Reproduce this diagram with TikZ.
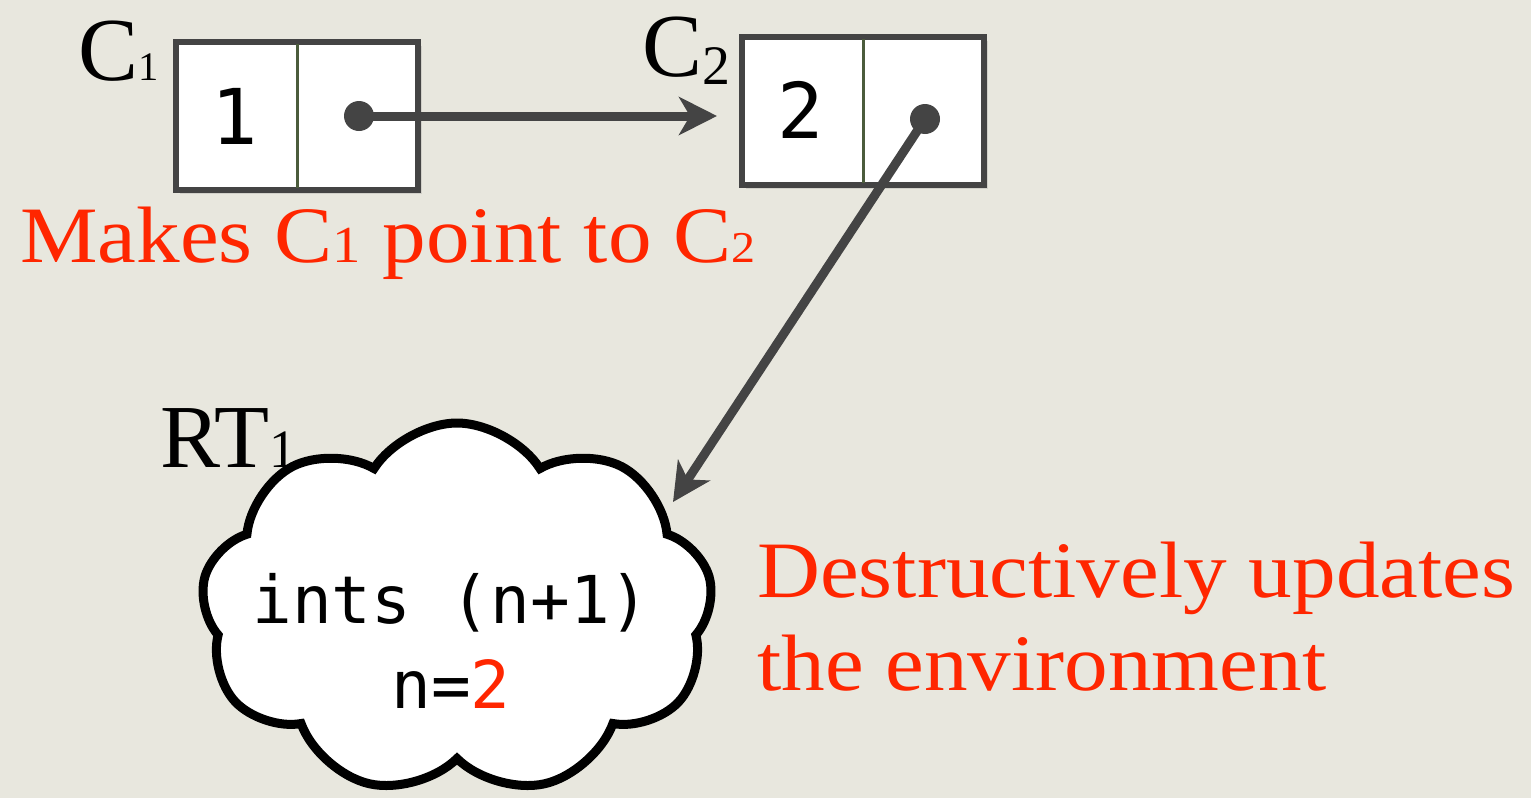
\documentclass[tikz,border=0pt]{standalone}
\usepackage{fontspec}
\setmainfont{Liberation Serif}
\setmonofont{DejaVu Sans Mono}
\newfontfamily\notefont{Liberation Serif}[FakeStretch=1.09]
\definecolor{slideBg}{RGB}{232,231,222}
\definecolor{slideRed}{RGB}{255,38,0}
\definecolor{ptrGray}{RGB}{68,68,68}
\definecolor{cellSep}{RGB}{75,92,60}
\usetikzlibrary{shapes,arrows,positioning,shadows,calc}
\usetikzlibrary{arrows.meta}

\begin{document}
\begin{tikzpicture}[x=1pt,y=-1pt,
    cell/.style={draw=ptrGray, line width=6pt, fill=white, inner sep=0pt,
        minimum width=242pt, minimum height=148pt,
        drop shadow={opacity=0.22, shadow xshift=4pt, shadow yshift=-4pt}},
    celldigit/.style={font=\ttfamily\fontsize{77}{77}\selectfont, inner sep=0pt},
    ptrdot/.style={circle, fill=ptrGray, minimum size=30pt, inner sep=0pt},
    ptr/.style={draw=ptrGray, line width=9pt, -{Stealth[length=38pt,width=38pt,inset=11pt]}},
    lbl/.style={font=\fontsize{90}{90}\selectfont, inner sep=0pt},
    note/.style={font=\notefont\fontsize{80}{93}\selectfont, text=slideRed, inner sep=0pt},
    envcloud/.style={cloud, cloud puffs=9, cloud puff arc=115, aspect=1.4,
        draw=black, line width=9pt, fill=white, minimum width=512pt, minimum height=372pt}]
    \useasboundingbox (0,0) rectangle (1531,798);
    \fill[slideBg] (0,0) rectangle (1531,798);

    % cons cells
    \node[cell] (c1) at (297,116) {};
    \node[cell] (c2) at (863,111) {};
    \draw[cellSep, line width=3pt, shorten <=5pt, shorten >=5pt] (c1.north) -- (c1.south);
    \draw[cellSep, line width=3pt, shorten <=5pt, shorten >=5pt] (c2.north) -- (c2.south);
    \node[celldigit] (c1val) at ($(c1.west)!0.5!(c1.center)$) {1};
    \node[celldigit] (c2val) at ($(c2.west)!0.5!(c2.center)+(0,-1)$) {2};

    % cell names
    \node[lbl, anchor=base west] (c1lbl) at (78,80) {C\scalebox{0.45}{1}};
    \node[lbl, anchor=base west] (c2lbl) at (642,76) {C\raisebox{-0.09em}{\scalebox{0.62}{2}}};

    % runtime environment
    \node[envcloud] (rt1) at (457,609) {};
    \node[font=\ttfamily\fontsize{66}{85}\selectfont, align=center, inner sep=0pt] (rt1text)
        at ($(rt1.center)+(-6,32)$) {ints (n+1)\\n=\textcolor{slideRed}{2}};
    \node[lbl, anchor=base west] (rt1lbl) at (160,467) {RT\scalebox{0.6}{1}};
    \coordinate (rt1tip) at (673,502);

    % pointers
    \node[ptrdot] (c1dot) at ($(c1.center)!0.5!(c1.east)$) {};
    \node[ptrdot] (c2dot) at ($(c2.center)!0.5!(c2.east)+(0,8)$) {};
    \draw[ptr, shorten >=22pt] (c1dot.center) -- (c1dot.center -| c2.west);
    \draw[ptr] (c2dot.center) -- (rt1tip);

    % notes
    \node[note, anchor=base west] (note1) at (20,262) {Makes C\scalebox{0.65}{1} point to C\scalebox{0.55}{2}};
    \node[note, anchor=base west] (note2) at (757,597) {Destructively updates};
    \node[note, anchor=base west] (note3) at ($(note2.base west)+(0,93)$) {the environment};
\end{tikzpicture}
\end{document}
